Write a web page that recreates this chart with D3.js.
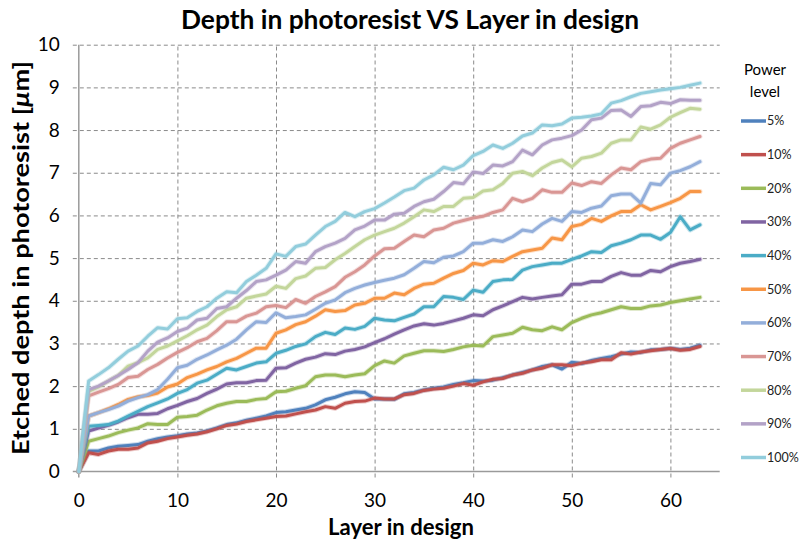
<!DOCTYPE html>
<html>
<head>
<meta charset="utf-8">
<script src="https://cdn.jsdelivr.net/npm/d3@7"></script>
<style>
  body { margin: 0; background: #fff; }
  svg { display: block; font-family: Lato, "Open Sans", sans-serif; }
</style>
</head>
<body>
<svg id="chart" width="800" height="544"></svg>
<script>
// layer index 0..63 (x)
const layers = d3.range(0, 64);

const powerLevels = ["5%", "10%", "20%", "30%", "40%", "50%", "60%", "70%", "80%", "90%", "100%"];
const colors = ["#4F81BD", "#C0504D", "#9BBB59", "#8064A2", "#4BACC6", "#F79646",
                "#93AEDA", "#D99694", "#C3D69B", "#B3A2C7", "#92CDDC"];

// etched depth [um] per layer
const depth5 = [0, 0.48, 0.48, 0.55, 0.59, 0.61, 0.63, 0.71, 0.77, 0.81, 0.84,
  0.88, 0.9, 0.95, 1.02, 1.1, 1.14, 1.2, 1.25, 1.3, 1.38,
  1.4, 1.44, 1.48, 1.56, 1.68, 1.74, 1.82, 1.87, 1.85, 1.7,
  1.7, 1.69, 1.82, 1.85, 1.91, 1.95, 1.98, 2.04, 2.08, 2.13,
  2.12, 2.14, 2.2, 2.26, 2.32, 2.38, 2.46, 2.5, 2.4, 2.56,
  2.53, 2.6, 2.65, 2.69, 2.75, 2.8, 2.79, 2.85, 2.86, 2.89,
  2.86, 2.89, 2.96];
const depth10 = [0, 0.44, 0.4, 0.48, 0.52, 0.52, 0.55, 0.67, 0.71, 0.77, 0.81,
  0.85, 0.88, 0.93, 1.0, 1.08, 1.11, 1.17, 1.21, 1.25, 1.29,
  1.3, 1.35, 1.4, 1.44, 1.52, 1.48, 1.6, 1.64, 1.65, 1.72,
  1.7, 1.7, 1.8, 1.83, 1.9, 1.93, 1.95, 2.0, 2.06, 2.02,
  2.1, 2.16, 2.18, 2.26, 2.3, 2.38, 2.42, 2.5, 2.5, 2.48,
  2.54, 2.57, 2.62, 2.62, 2.78, 2.75, 2.8, 2.83, 2.86, 2.88,
  2.84, 2.86, 2.93];
const depth20 = [0, 0.71, 0.77, 0.83, 0.91, 0.97, 1.02, 1.12, 1.1, 1.1, 1.27,
  1.29, 1.32, 1.44, 1.54, 1.6, 1.64, 1.64, 1.69, 1.71, 1.87,
  1.88, 1.95, 2.01, 2.22, 2.26, 2.26, 2.22, 2.26, 2.29, 2.48,
  2.59, 2.54, 2.71, 2.77, 2.83, 2.83, 2.81, 2.86, 2.92, 2.96,
  2.94, 3.16, 3.2, 3.24, 3.38, 3.32, 3.3, 3.39, 3.32, 3.49,
  3.59, 3.67, 3.72, 3.79, 3.86, 3.82, 3.82, 3.88, 3.9, 3.96,
  4.0, 4.04, 4.08];
const depth30 = [0, 0.95, 1.02, 1.08, 1.16, 1.26, 1.34, 1.34, 1.36, 1.47, 1.55,
  1.64, 1.71, 1.83, 1.93, 2.05, 2.08, 2.08, 2.13, 2.14, 2.42,
  2.43, 2.54, 2.63, 2.68, 2.76, 2.74, 2.82, 2.86, 2.92, 3.02,
  3.11, 3.22, 3.32, 3.41, 3.46, 3.43, 3.47, 3.53, 3.59, 3.67,
  3.65, 3.79, 3.88, 3.98, 4.08, 4.04, 4.08, 4.11, 4.14, 4.39,
  4.39, 4.45, 4.45, 4.57, 4.66, 4.6, 4.6, 4.71, 4.68, 4.8,
  4.88, 4.92, 4.97];
const depth40 = [0, 1.06, 1.08, 1.1, 1.18, 1.3, 1.41, 1.52, 1.61, 1.7, 1.83,
  1.92, 2.07, 2.14, 2.28, 2.42, 2.38, 2.46, 2.54, 2.57, 2.77,
  2.84, 2.93, 2.99, 3.16, 3.26, 3.21, 3.36, 3.33, 3.4, 3.59,
  3.55, 3.53, 3.61, 3.69, 3.86, 3.86, 4.1, 4.08, 4.03, 4.25,
  4.2, 4.45, 4.49, 4.5, 4.72, 4.8, 4.84, 4.88, 4.88, 4.97,
  5.05, 5.15, 5.13, 5.29, 5.35, 5.43, 5.54, 5.54, 5.44, 5.6,
  5.97, 5.66, 5.78];
const depth50 = [0, 1.3, 1.38, 1.47, 1.57, 1.69, 1.75, 1.78, 1.84, 1.98, 2.05,
  2.2, 2.28, 2.38, 2.46, 2.57, 2.65, 2.77, 2.89, 2.89, 3.24,
  3.32, 3.44, 3.51, 3.64, 3.79, 3.75, 3.77, 3.9, 3.94, 4.06,
  4.06, 4.18, 4.14, 4.29, 4.39, 4.41, 4.53, 4.64, 4.71, 4.88,
  4.84, 4.94, 4.92, 5.04, 5.15, 5.19, 5.23, 5.47, 5.43, 5.74,
  5.79, 5.93, 5.86, 5.99, 6.09, 6.09, 6.25, 6.13, 6.21, 6.3,
  6.4, 6.56, 6.56];
const depth60 = [0, 1.3, 1.38, 1.45, 1.53, 1.65, 1.73, 1.8, 1.92, 2.16, 2.43,
  2.49, 2.63, 2.73, 2.85, 2.96, 3.1, 3.32, 3.51, 3.49, 3.72,
  3.6, 3.63, 3.67, 3.8, 3.94, 4.02, 4.19, 4.29, 4.37, 4.43,
  4.48, 4.53, 4.61, 4.76, 4.92, 4.89, 5.02, 5.05, 5.15, 5.35,
  5.35, 5.43, 5.39, 5.5, 5.66, 5.62, 5.8, 5.93, 5.86, 6.09,
  6.07, 6.17, 6.22, 6.46, 6.5, 6.5, 6.29, 6.75, 6.72, 6.99,
  7.05, 7.14, 7.26];
const depth70 = [0, 1.77, 1.86, 1.94, 2.04, 2.2, 2.23, 2.39, 2.51, 2.66, 2.79,
  2.9, 3.04, 3.12, 3.3, 3.51, 3.51, 3.64, 3.71, 3.86, 3.89,
  3.84, 4.03, 3.94, 4.1, 4.21, 4.33, 4.55, 4.68, 4.84, 5.05,
  5.22, 5.23, 5.39, 5.54, 5.5, 5.66, 5.7, 5.82, 5.88, 5.94,
  5.98, 6.07, 6.13, 6.4, 6.32, 6.4, 6.6, 6.54, 6.54, 6.76,
  6.7, 6.79, 6.75, 6.95, 7.11, 7.07, 7.26, 7.32, 7.34, 7.57,
  7.69, 7.77, 7.85];
const depth80 = [0, 1.88, 1.98, 2.12, 2.25, 2.47, 2.55, 2.66, 2.86, 2.94, 3.06,
  3.18, 3.32, 3.43, 3.63, 3.79, 3.86, 4.06, 4.11, 4.16, 4.34,
  4.29, 4.52, 4.58, 4.76, 4.78, 4.96, 5.11, 5.27, 5.43, 5.54,
  5.62, 5.7, 5.82, 5.97, 6.13, 6.09, 6.21, 6.21, 6.4, 6.42,
  6.57, 6.6, 6.75, 6.99, 7.03, 6.93, 7.11, 7.24, 7.3, 7.14,
  7.34, 7.38, 7.46, 7.69, 7.77, 7.77, 8.07, 8.02, 8.12, 8.3,
  8.41, 8.51, 8.49];
const depth90 = [0, 1.92, 2.0, 2.12, 2.25, 2.39, 2.55, 2.82, 3.03, 3.13, 3.28,
  3.36, 3.55, 3.59, 3.82, 3.86, 4.06, 4.24, 4.45, 4.49, 4.6,
  4.72, 4.92, 4.88, 5.15, 5.27, 5.35, 5.46, 5.66, 5.75, 5.89,
  5.89, 6.03, 6.05, 6.21, 6.32, 6.38, 6.56, 6.77, 6.74, 7.02,
  6.98, 7.18, 7.16, 7.26, 7.53, 7.42, 7.65, 7.77, 7.81, 7.87,
  8.0, 8.24, 8.28, 8.46, 8.47, 8.32, 8.55, 8.57, 8.65, 8.62,
  8.71, 8.7, 8.7];
const depth100 = [0, 2.12, 2.27, 2.43, 2.63, 2.82, 2.94, 3.17, 3.37, 3.34, 3.58,
  3.6, 3.75, 3.86, 4.06, 4.21, 4.19, 4.45, 4.6, 4.76, 5.1,
  5.04, 5.27, 5.33, 5.54, 5.74, 5.86, 6.07, 5.97, 6.09, 6.16,
  6.29, 6.43, 6.58, 6.64, 6.83, 6.95, 7.13, 7.07, 7.18, 7.4,
  7.5, 7.65, 7.57, 7.69, 7.86, 7.93, 8.12, 8.1, 8.14, 8.28,
  8.3, 8.33, 8.38, 8.63, 8.69, 8.78, 8.86, 8.9, 8.94, 8.97,
  9.0, 9.05, 9.1];

const xTicks = [0, 10, 20, 30, 40, 50, 60];
const yTicks = [0, 1, 2, 3, 4, 5, 6, 7, 8, 9, 10];

const allDepths = [depth5, depth10, depth20, depth30, depth40, depth50,
                   depth60, depth70, depth80, depth90, depth100];
const series = powerLevels.map((name, i) => ({
  name,
  color: colors[i],
  values: layers.map((l, j) => ({ layer: l, depth: allDepths[i][j] })),
}));

const svg = d3.select("#chart");
const plot = { left: 78.8, right: 719.7, top: 44.7, bottom: 471.5 };

const x = d3.scaleLinear().domain([0, 65]).range([plot.left, plot.right]);
const y = d3.scaleLinear().domain([0, 10]).range([plot.bottom, plot.top]);

// horizontal gridlines + y labels
const yAxis = svg.append("g")
  .attr("transform", `translate(${plot.left},0)`)
  .call(d3.axisLeft(y).tickValues(yTicks).tickSizeInner(-(plot.right - plot.left)).tickSizeOuter(0).tickPadding(19));
yAxis.select(".domain").remove();
yAxis.selectAll(".tick line")
  .attr("x1", -6)
  .attr("stroke", "#8a8a8a")
  .attr("stroke-dasharray", "4,3")
  .filter((d) => d === 0).remove();
yAxis.selectAll(".tick text")
  .attr("font-size", 19)
  .attr("fill", "#000")
  .attr("font-family", "Lato");

// vertical gridlines + x labels
const xAxis = svg.append("g")
  .attr("transform", `translate(0,${plot.bottom})`)
  .call(d3.axisBottom(x).tickValues(xTicks).tickSizeInner(-(plot.bottom - plot.top)).tickSizeOuter(0).tickPadding(22));
xAxis.select(".domain").remove();
xAxis.selectAll(".tick line")
  .attr("y1", 6)
  .attr("stroke", "#8a8a8a")
  .attr("stroke-dasharray", "4,3")
  .filter((d) => d === 0).remove();
xAxis.selectAll(".tick text")
  .attr("font-size", 19)
  .attr("fill", "#000")
  .attr("font-family", "Lato");

// solid axis lines
svg.append("line")
  .attr("x1", plot.left).attr("x2", plot.left)
  .attr("y1", plot.top).attr("y2", plot.bottom)
  .attr("stroke", "#9a9a9a").attr("stroke-width", 1.5);
svg.append("line")
  .attr("x1", plot.left - 6).attr("x2", plot.right)
  .attr("y1", plot.bottom).attr("y2", plot.bottom)
  .attr("stroke", "#9a9a9a").attr("stroke-width", 1.5);
svg.append("line")
  .attr("x1", plot.left).attr("x2", plot.left)
  .attr("y1", plot.bottom).attr("y2", plot.bottom + 6)
  .attr("stroke", "#9a9a9a").attr("stroke-width", 1.5);

// lines
const line = d3.line()
  .x((d) => x(d.layer))
  .y((d) => y(d.depth));

const lines = svg.append("g")
  .attr("fill", "none")
  .attr("stroke-linejoin", "round")
  .attr("stroke-linecap", "round");

series.forEach((s) => {
  lines.append("path")
    .attr("d", line(s.values))
    .attr("stroke", s.color)
    .attr("stroke-opacity", 0.3)
    .attr("stroke-width", 5);
  lines.append("path")
    .attr("d", line(s.values))
    .attr("stroke", s.color)
    .attr("stroke-width", 3);
});

// title and axis labels
svg.append("text")
  .attr("x", 410).attr("y", 29)
  .attr("text-anchor", "middle")
  .attr("font-size", 26).attr("font-weight", "bold")
  .attr("textLength", 458).attr("lengthAdjust", "spacingAndGlyphs")
  .text("Depth in photoresist VS Layer in design");

svg.append("text")
  .attr("x", 401).attr("y", 535)
  .attr("text-anchor", "middle")
  .attr("font-size", 22).attr("font-weight", "bold")
  .attr("textLength", 146).attr("lengthAdjust", "spacingAndGlyphs")
  .text("Layer in design");

const yLabel = svg.append("text")
  .attr("transform", "translate(29,258) rotate(-90)")
  .attr("text-anchor", "middle")
  .attr("font-size", 22).attr("font-weight", "bold")
  .attr("textLength", 394).attr("lengthAdjust", "spacingAndGlyphs");
yLabel.append("tspan").text("Etched depth in photoresist [");
yLabel.append("tspan").attr("font-style", "italic").text("μ");
yLabel.append("tspan").text("m]");

// legend
const legend = svg.append("g").attr("font-family", "Lato");
legend.append("text")
  .attr("x", 765).attr("y", 75)
  .attr("text-anchor", "middle").attr("font-size", 15)
  .text("Power");
legend.append("text")
  .attr("x", 765).attr("y", 97)
  .attr("text-anchor", "middle").attr("font-size", 15)
  .text("level");

const legendY = d3.scalePoint().domain(powerLevels).range([121, 457.5]);
const item = legend.selectAll("g.item")
  .data(series)
  .join("g")
  .attr("class", "item")
  .attr("transform", (d) => `translate(0,${legendY(d.name)})`);
item.append("line")
  .attr("x1", 741).attr("x2", 766)
  .attr("stroke", (d) => d.color)
  .attr("stroke-width", 3.5);
item.append("text")
  .attr("x", 767).attr("y", 0)
  .attr("dy", "0.35em")
  .attr("font-size", 12.5)
  .attr("fill", "#222")
  .text((d) => d.name);
</script>
</body>
</html>
